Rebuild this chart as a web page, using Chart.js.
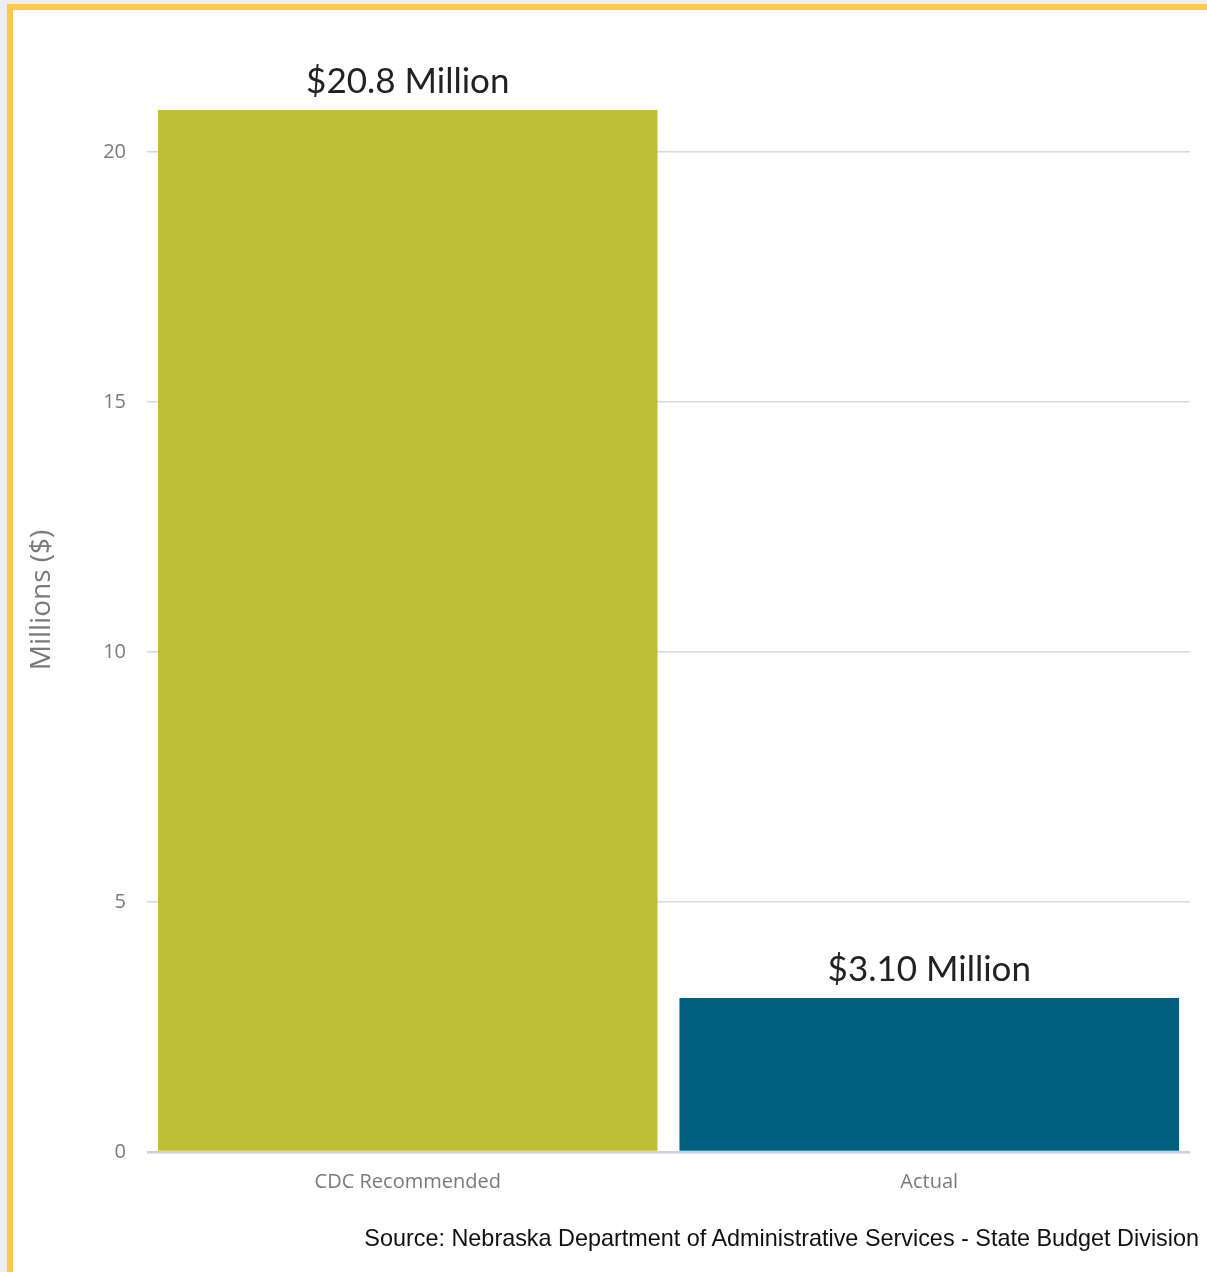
<!DOCTYPE html>
<html>
<head>
<meta charset="utf-8">
<script src="https://cdn.jsdelivr.net/npm/chart.js@4.4.1/dist/chart.umd.min.js"></script>
<style>
  html, body { margin: 0; padding: 0; background: #eceef0; overflow: hidden; }
  .frame {
    position: absolute; left: 7px; top: 4px; width: 1240px; height: 1300px;
    border: 6px solid #fec84d; background: #fff; box-sizing: border-box;
  }
  #chartWrap { position: absolute; left: 0; top: 0; width: 1207px; height: 1272px; }
  .source {
    position: absolute; right: 8px; top: 1225px;
    font-family: "Liberation Sans", Arial, sans-serif; font-size: 23.4px; color: #111;
    white-space: nowrap;
  }
</style>
</head>
<body>
<div class="frame"></div>
<div id="chartWrap"><canvas id="budgetChart"></canvas></div>
<div class="source">Source: Nebraska Department of Administrative Services - State Budget Division</div>
<script>
const categories = ["CDC Recommended", "Actual"];
const funding = [20.84, 3.08];
const valueLabels = ["$20.8 Million", "$3.10 Million"];
const barColors = ["#bdc035", "#015f7f"];
const yTicks = [0, 5, 10, 15, 20];
const yTitle = "Millions ($)";

// draws the "$xx Million" text above each bar
const barLabels = {
    id: "barLabels",
    afterDatasetsDraw(chart) {
        const { ctx } = chart;
        const meta = chart.getDatasetMeta(0);
        ctx.save();
        ctx.font = "35px Lato";
        ctx.fillStyle = "#222";
        ctx.textAlign = "center";
        ctx.textBaseline = "alphabetic";
        meta.data.forEach((bar, i) => {
            ctx.fillText(valueLabels[i], bar.x, bar.y - 17);
        });
        ctx.restore();
    }
};

// y title sits a bit above the middle of the plot in the original
const sideTitle = {
    id: "sideTitle",
    afterDraw(chart) {
        const { ctx, chartArea } = chart;
        ctx.save();
        ctx.translate(42, (chartArea.top + chartArea.bottom) / 2 - 27);
        ctx.rotate(-Math.PI / 2);
        ctx.font = "28px 'Open Sans'";
        ctx.fillStyle = "#7a7a7a";
        ctx.textAlign = "center";
        ctx.textBaseline = "middle";
        ctx.fillText(yTitle, 0, 0);
        ctx.restore();
    }
};

new Chart(document.getElementById("budgetChart"), {
    type: "bar",
    data: {
        labels: categories,
        datasets: [{ data: funding, backgroundColor: barColors, categoryPercentage: 1, barPercentage: 0.958 }]
    },
    options: {
        responsive: true,
        maintainAspectRatio: false,
        animation: false,
        layout: { padding: { left: 10, top: 102, right: 17, bottom: 0 } },
        plugins: { legend: { display: false }, tooltip: { enabled: false } },
        scales: {
            x: {
                grid: { display: false, drawTicks: false },
                border: { display: false },
                ticks: { color: "#7a7a7a", font: { family: "Open Sans", size: 20 }, padding: 18 },
                afterFit: (s) => { s.height = 120; }
            },
            y: {
                min: 0,
                max: 21,
                afterBuildTicks: (s) => { s.ticks = yTicks.map((v) => ({ value: v })); },
                grid: {
                    drawTicks: false,
                    color: (c) => c.tick && c.tick.value === 0 ? "#c9d2de" : "#dadada",
                    lineWidth: (c) => c.tick && c.tick.value === 0 ? 2.5 : 1.5
                },
                border: { display: false },
                ticks: { color: "#7a7a7a", font: { family: "Open Sans", size: 20 }, padding: 21 },
                afterFit: (s) => { s.width = 137; }
            }
        }
    },
    plugins: [barLabels, sideTitle]
});
</script>
</body>
</html>
